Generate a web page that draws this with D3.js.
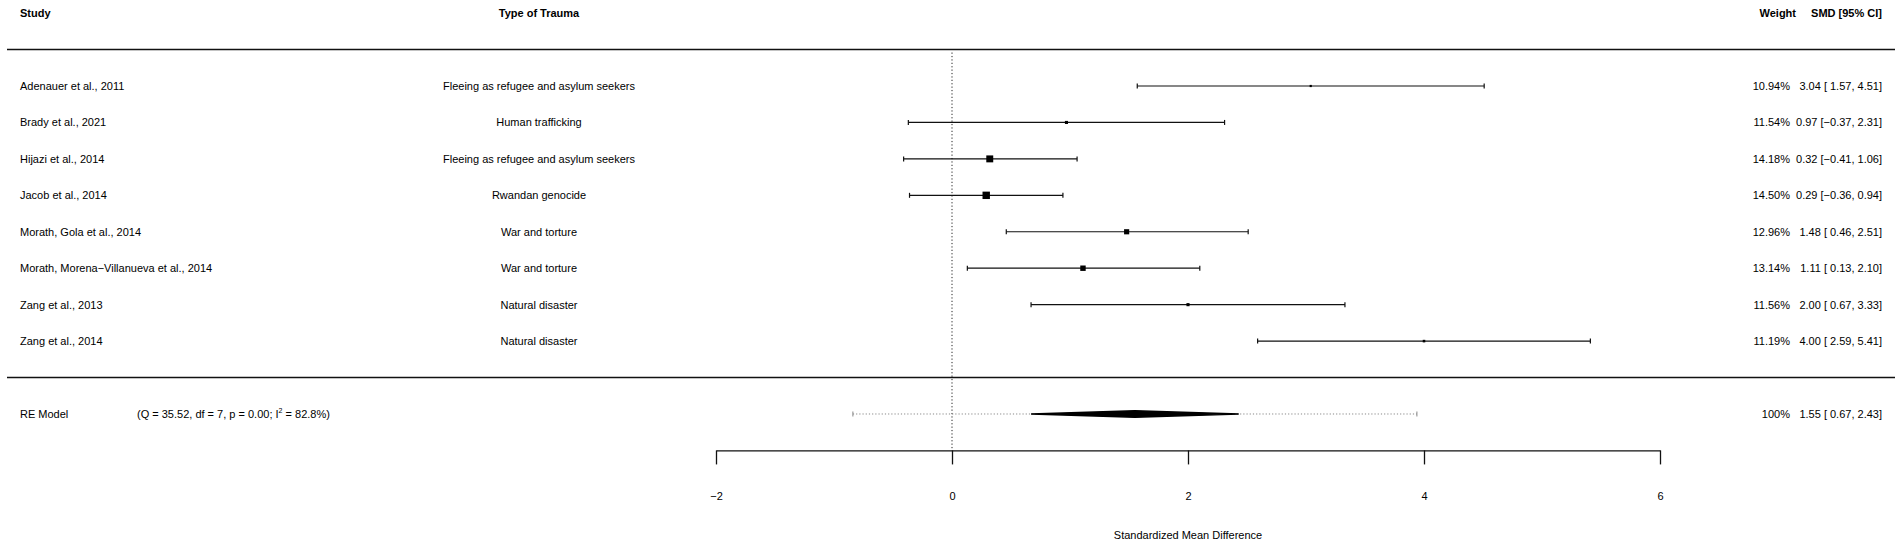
<!DOCTYPE html>
<html>
<head>
<meta charset="utf-8">
<script src="https://cdn.jsdelivr.net/npm/d3@7"></script>
<style>
  html, body { margin: 0; padding: 0; background: #fff; }
  svg { display: block; font-family: "Liberation Sans", Arial, Helvetica, sans-serif; }
</style>
</head>
<body>
<svg id="chart" width="1902" height="547"></svg>
<script>
// ---- Data ----
const studies = [
  "Adenauer et al., 2011",
  "Brady et al., 2021",
  "Hijazi et al., 2014",
  "Jacob et al., 2014",
  "Morath, Gola et al., 2014",
  "Morath, Morena\u2212Villanueva et al., 2014",
  "Zang et al., 2013",
  "Zang et al., 2014"
];
const traumaTypes = [
  "Fleeing as refugee and asylum seekers",
  "Human trafficking",
  "Fleeing as refugee and asylum seekers",
  "Rwandan genocide",
  "War and torture",
  "War and torture",
  "Natural disaster",
  "Natural disaster"
];
const smd     = [3.04, 0.97, 0.32, 0.29, 1.48, 1.11, 2.00, 4.00];
const ciLower = [1.57, -0.37, -0.41, -0.36, 0.46, 0.13, 0.67, 2.59];
const ciUpper = [4.51, 2.31, 1.06, 0.94, 2.51, 2.10, 3.33, 5.41];
const weights = [10.94, 11.54, 14.18, 14.50, 12.96, 13.14, 11.56, 11.19];
const reEstimate = [1.55, 0.67, 2.43];      // estimate, lower, upper
const rePrediction = [-0.84, 3.94];         // prediction interval
const reStats = "(Q = 35.52, df = 7, p = 0.00; I";
const reStats2 = " = 82.8%)";
const xTicks = [-2, 0, 2, 4, 6];
const headers = ["Study", "Type of Trauma", "Weight", "SMD [95% CI]"];
const xLabel = "Standardized Mean Difference";

// ---- Layout ----
const svg = d3.select("#chart");
const x = d3.scaleLinear().domain([-2, 6]).range([716, 1660]);
const k = studies.length;
const y = d3.scaleLinear().domain([k, 1]).range([86, 341.1]);

const colStudy = 20, colType = 539, colWeight = 1790, colSmd = 1882;
const fmt = v => (v < 0 ? "\u2212" : "") + Math.abs(v).toFixed(2);
const fmtCI = v => (v < 0 ? "\u2212" + Math.abs(v).toFixed(2) : " " + v.toFixed(2));

// Headers
const hy = y(k + 2);
svg.append("text").attr("x", colStudy).attr("y", hy).attr("dy", "0.35em")
  .attr("font-size", 11).attr("font-weight", "bold").text(headers[0]);
svg.append("text").attr("x", colType).attr("y", hy).attr("dy", "0.35em")
  .attr("text-anchor", "middle").attr("font-size", 11).attr("font-weight", "bold").text(headers[1]);
svg.append("text").attr("x", 1796).attr("y", hy).attr("dy", "0.35em")
  .attr("text-anchor", "end").attr("font-size", 11).attr("font-weight", "bold").text(headers[2]);
svg.append("text").attr("x", colSmd).attr("y", hy).attr("dy", "0.35em")
  .attr("text-anchor", "end").attr("font-size", 11).attr("font-weight", "bold").text(headers[3]);

// Horizontal rules
[k + 1, 0].forEach(r => {
  svg.append("line").attr("x1", 7).attr("x2", 1895)
    .attr("y1", y(r)).attr("y2", y(r))
    .attr("stroke", "#111").attr("stroke-width", 1.5);
});

// Reference line at 0
svg.append("line")
  .attr("x1", x(0)).attr("x2", x(0))
  .attr("y1", y(k + 1) + 3).attr("y2", y(-2))
  .attr("stroke", "#222").attr("stroke-width", 1)
  .attr("stroke-dasharray", "1.2,2.2");

// Study rows
const rows = studies.map((s, i) => ({
  s, t: traumaTypes[i], est: smd[i], lo: ciLower[i], hi: ciUpper[i], w: weights[i], row: k - i
}));
const wMin = d3.min(weights), wMax = d3.max(weights);
const psize = d3.scaleLinear().domain([wMin, wMax]).range([2.2, 7.4]);

const g = svg.append("g");
const rg = g.selectAll("g.row").data(rows).join("g").attr("class", "row");

rg.append("text").attr("x", colStudy).attr("y", d => y(d.row)).attr("dy", "0.35em")
  .attr("font-size", 11).text(d => d.s);
rg.append("text").attr("x", colType).attr("y", d => y(d.row)).attr("dy", "0.35em")
  .attr("text-anchor", "middle").attr("font-size", 11).text(d => d.t);
rg.append("text").attr("x", colWeight).attr("y", d => y(d.row)).attr("dy", "0.35em")
  .attr("text-anchor", "end").attr("font-size", 11).text(d => d.w.toFixed(2) + "%");
rg.append("text").attr("x", colSmd).attr("y", d => y(d.row)).attr("dy", "0.35em")
  .attr("text-anchor", "end").attr("font-size", 11).style("white-space", "pre")
  .text(d => fmt(d.est) + " [" + fmtCI(d.lo) + ", " + fmt(d.hi) + "]");

rg.append("line").attr("x1", d => x(d.lo)).attr("x2", d => x(d.hi))
  .attr("y1", d => y(d.row)).attr("y2", d => y(d.row))
  .attr("stroke", "#111").attr("stroke-width", 1.2);
["lo", "hi"].forEach(key => {
  rg.append("line").attr("x1", d => x(d[key])).attr("x2", d => x(d[key]))
    .attr("y1", d => y(d.row) - 2.5).attr("y2", d => y(d.row) + 2.5)
    .attr("stroke", "#111").attr("stroke-width", 1.2);
});
rg.append("rect")
  .attr("x", d => x(d.est) - psize(d.w) / 2)
  .attr("y", d => y(d.row) - psize(d.w) / 2)
  .attr("width", d => psize(d.w)).attr("height", d => psize(d.w))
  .attr("fill", "#000");

// RE model row
const ry = y(-1);
svg.append("text").attr("x", colStudy).attr("y", ry).attr("dy", "0.35em")
  .attr("font-size", 11).text("RE Model");
const st = svg.append("text").attr("x", 137).attr("y", ry + 3.85).attr("font-size", 11);
st.append("tspan").text(reStats);
st.append("tspan").attr("font-size", 7).attr("dy", -4.5).text("2");
st.append("tspan").attr("dy", 4.5).text(reStats2);

svg.append("line").attr("x1", x(rePrediction[0])).attr("x2", x(rePrediction[1]))
  .attr("y1", ry).attr("y2", ry)
  .attr("stroke", "#888").attr("stroke-width", 1).attr("stroke-dasharray", "1.2,2");
rePrediction.forEach(v => {
  svg.append("line").attr("x1", x(v)).attr("x2", x(v))
    .attr("y1", ry - 2.5).attr("y2", ry + 2.5)
    .attr("stroke", "#888").attr("stroke-width", 1);
});
svg.append("polygon")
  .attr("points", [
    [x(reEstimate[1]), ry], [x(reEstimate[0]), ry - 3.3],
    [x(reEstimate[2]), ry], [x(reEstimate[0]), ry + 3.3]
  ].map(p => p.join(",")).join(" "))
  .attr("fill", "#000").attr("stroke", "#000").attr("stroke-width", 1.6)
  .attr("stroke-linejoin", "bevel");

svg.append("text").attr("x", colWeight).attr("y", ry).attr("dy", "0.35em")
  .attr("text-anchor", "end").attr("font-size", 11).text("100%");
svg.append("text").attr("x", colSmd).attr("y", ry).attr("dy", "0.35em")
  .attr("text-anchor", "end").attr("font-size", 11).style("white-space", "pre")
  .text(fmt(reEstimate[0]) + " [" + fmtCI(reEstimate[1]) + ", " + fmt(reEstimate[2]) + "]");

// Axis
const axis = d3.axisBottom(x).tickValues(xTicks).tickSize(14).tickSizeOuter(0).tickPadding(28)
  .tickFormat(d => (d < 0 ? "\u2212" : "") + Math.abs(d));
const ag = svg.append("g").attr("transform", `translate(0,${y(-2)})`).call(axis);
ag.select(".domain").attr("stroke", "#111").attr("stroke-width", 1.3);
ag.selectAll(".tick line").attr("stroke", "#111").attr("stroke-width", 1.3);
ag.selectAll(".tick text").attr("font-size", 11).attr("fill", "#000")
  .attr("font-family", "Liberation Sans, Arial, sans-serif");

svg.append("text").attr("x", x(2)).attr("y", 535).attr("dy", "0.35em")
  .attr("text-anchor", "middle").attr("font-size", 11).text(xLabel);
</script>
</body>
</html>
